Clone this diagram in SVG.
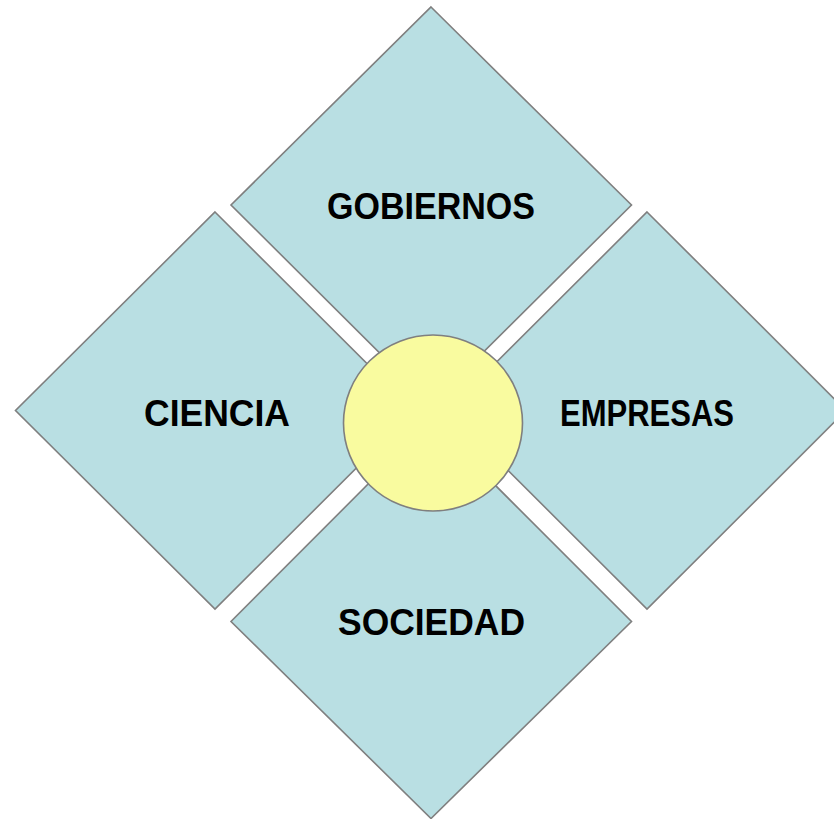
<svg xmlns="http://www.w3.org/2000/svg" width="834" height="819" viewBox="0 0 834 819">
<style>
.d{fill:#b9dfe3;stroke:#7f7f7f;stroke-width:1.6;stroke-linejoin:miter}
.c{fill:#f9fb9f;stroke:#7f7f7f;stroke-width:1.6}
.t{font-family:"Liberation Sans",Arial,sans-serif;font-weight:bold;font-size:36px;fill:#000;text-anchor:middle}
</style>
<rect width="834" height="819" fill="#fff"/>
<g id="gobiernos">
<polygon class="d" points="431,7 631.5,205 431,404 231,205"/>
<text class="t" x="431" y="219" textLength="208" lengthAdjust="spacingAndGlyphs">GOBIERNOS</text>
</g>
<g id="ciencia">
<polygon class="d" points="215,212 414,410.5 215,609 15.5,410.5"/>
<text class="t" x="217" y="426" textLength="146" lengthAdjust="spacingAndGlyphs">CIENCIA</text>
</g>
<g id="empresas">
<polygon class="d" points="647,212 846,410.5 647,609 448,410.5"/>
<text class="t" x="647" y="426" textLength="174" lengthAdjust="spacingAndGlyphs">EMPRESAS</text>
</g>
<g id="sociedad">
<polygon class="d" points="431,421 631.5,621.5 431,818.5 231,621.5"/>
<text class="t" x="431.5" y="635" textLength="187" lengthAdjust="spacingAndGlyphs">SOCIEDAD</text>
</g>
<g id="centro">
<ellipse class="c" cx="433" cy="423" rx="89.5" ry="88"/>
</g>
<g id="connectors"></g>
</svg>
